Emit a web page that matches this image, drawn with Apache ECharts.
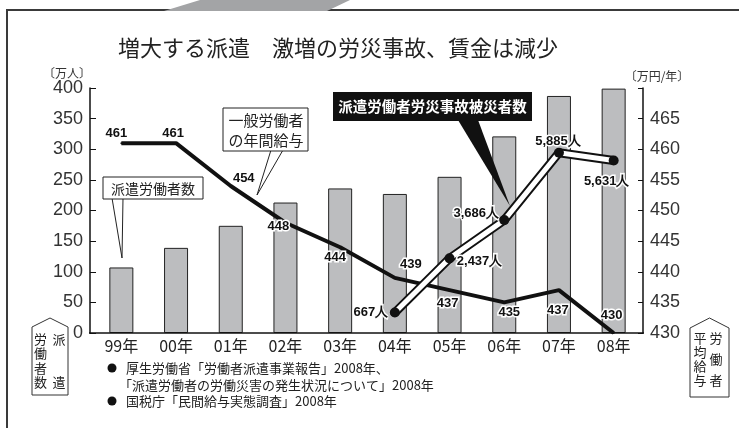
<!DOCTYPE html>
<html><head><meta charset="utf-8">
<script src="https://cdn.jsdelivr.net/npm/echarts@6/dist/echarts.min.js"></script>
<style>html,body{margin:0;padding:0;background:#fff}#c{width:739px;height:428px}</style>
</head><body><div id="c"></div>
<script>
const categories = ['99年','00年','01年','02年','03年','04年','05年','06年','07年','08年'];
const dispatchWorkers = [107, 139, 175, 213, 236, 227, 255, 321, 387, 399];
const wages = [461, 461, 454, 448, 444, 439, 437, 435, 437, 430];
const accidents = [null, null, null, null, null, 667, 2437, 3686, 5885, 5631];
const leftTicks = {min: 0, max: 400, interval: 50};
const rightTicks = {min: 430, max: 470, interval: 5};

// label placement (annotation layout only)
const wageLabelOffsets = [[-5,-10],[-3,-10],[13,-8],[-7,4],[-5,10],[16,-13],[-2,13],[5,10],[-1,20],[-2,-18]];
const accLabelOffsets = [null,null,null,null,null,[-24,0],[30,3],[-28,-7],[-1,-11],[-7,21]];

const FONT = '"Noto Sans CJK JP","Noto Sans",sans-serif';
const NUMFONT = '"Liberation Sans","Arial",sans-serif';

const labelBase = {show:true, position:'inside', color:'#111', fontFamily:NUMFONT, fontWeight:'bold', fontSize:13, textBorderColor:'#fff', textBorderWidth:3};

const wageData = wages.map((v,i)=>({value:v, label:Object.assign({}, labelBase, {offset: wageLabelOffsets[i]})}));
const accData = accidents.map((v,i)=> v==null ? null : ({value:v, label:Object.assign({}, labelBase, {offset: accLabelOffsets[i], formatter: p => p.value.toLocaleString('en-US') + '人'})}));

const chart = echarts.init(document.getElementById('c'), null, {renderer:'canvas'});
const axisTxt = {color:'#333', fontFamily:NUMFONT, fontSize:18};

function ch(x, y, t) {
  return {type:'text', z:11, style:{x:x, y:y, text:t, font:'13px '+FONT, fill:'#222', textAlign:'center', textVerticalAlign:'middle'}};
}
const badgeText = [
  ch(40.5,339,'労'), ch(40.5,353.3,'働'), ch(40.5,367.6,'者'), ch(40.5,382,'数'),
  ch(59,339,'派'), ch(59,382,'遣'),
  ch(700,338,'平'), ch(700,352,'均'), ch(700,366,'給'), ch(700,380,'与'),
  ch(716,338,'労'), ch(716,359,'働'), ch(716,380,'者')
];

chart.setOption({
  animation:false,
  backgroundColor:'#fff',
  grid:{left:94, right:98, top:88, bottom:95},
  xAxis:{type:'category', data:categories, boundaryGap:true,
    axisLine:{show:false}, axisTick:{show:false},
    axisLabel:{color:'#222', fontFamily:FONT, fontSize:16, margin:5}},
  yAxis:[
    {type:'value', min:leftTicks.min, max:leftTicks.max, interval:leftTicks.interval, position:'left', offset:4,
     axisLine:{show:true, lineStyle:{color:'#111', width:1.5}},
     axisTick:{show:true, inside:true, length:6, lineStyle:{color:'#111'}},
     axisLabel:Object.assign({margin:7}, axisTxt), splitLine:{show:false}},
    {type:'value', min:rightTicks.min, max:rightTicks.max, interval:rightTicks.interval, position:'right', offset:2,
     axisLine:{show:true, lineStyle:{color:'#111', width:1.5}},
     axisTick:{show:true, inside:true, length:5, lineStyle:{color:'#111'}},
     axisLabel:Object.assign({margin:7, formatter: v => v >= 470 ? '' : String(v)}, axisTxt), splitLine:{show:false}},
    {type:'value', min:0, max:8000, show:false}
  ],
  series:[
    {type:'bar', data:dispatchWorkers, yAxisIndex:0, barWidth:24, z:1,
     itemStyle:{color:'#bcbdbf', borderColor:'#222', borderWidth:1}},
    {type:'line', data:wageData, yAxisIndex:1, z:3, symbol:'circle', symbolSize:2, showSymbol:true,
     itemStyle:{color:'#111'}, lineStyle:{color:'#111', width:4}},
    {type:'line', data:accidents, yAxisIndex:2, z:4, symbol:'none', connectNulls:false,
     lineStyle:{color:'#111', width:9, cap:'round'}},
    {type:'line', data:accData, yAxisIndex:2, z:5, symbol:'circle', symbolSize:10, showSymbol:true,
     itemStyle:{color:'#111'}, lineStyle:{color:'#fff', width:5}}
  ],
  graphic:[
    {type:'rect', z:0, shape:{x:7, y:10, width:800, height:500}, style:{fill:'none', stroke:'#3a3a3a', lineWidth:2}},
    {type:'polygon', z:0, shape:{points:[[164,11],[200,0],[350,0],[327,11]]}, style:{fill:'#a3a4a6'}},
    {type:'text', z:10, style:{x:118, y:48, text:'増大する派遣　激増の労災事故、賃金は減少', font:'22px '+FONT, fill:'#222', textVerticalAlign:'middle'}},
    {type:'text', z:10, style:{x:67, y:73, text:'〔万人〕', font:'12px '+FONT, fill:'#333', textAlign:'center', textVerticalAlign:'middle'}},
    {type:'text', z:10, style:{x:657, y:76, text:'〔万円/年〕', font:'12px '+FONT, fill:'#333', textAlign:'center', textVerticalAlign:'middle'}},
    {type:'line', z:2, shape:{x1:89, y1:333, x2:644, y2:333}, style:{stroke:'#111', lineWidth:1.5}},
    // callout 1
    {type:'polygon', z:20, shape:{points:[[112,198],[123,198],[122,258]]}, style:{fill:'#fff', stroke:'#222', lineWidth:1}},
    {type:'rect', z:21, shape:{x:103, y:177, width:100, height:22}, style:{fill:'#fff', stroke:'#222', lineWidth:1}},
    {type:'text', z:22, style:{x:153, y:188.5, text:'派遣労働者数', font:'14px '+FONT, fill:'#222', textAlign:'center', textVerticalAlign:'middle'}},
    // callout 2
    {type:'polygon', z:20, shape:{points:[[271,150],[283,150],[257,195]]}, style:{fill:'#fff', stroke:'#222', lineWidth:1}},
    {type:'rect', z:21, shape:{x:223, y:108, width:85, height:43}, style:{fill:'#fff', stroke:'#222', lineWidth:1}},
    {type:'text', z:22, style:{x:266, y:120, text:'一般労働者', font:'15px '+FONT, fill:'#222', textAlign:'center', textVerticalAlign:'middle'}},
    {type:'text', z:22, style:{x:266, y:140, text:'の年間給与', font:'15px '+FONT, fill:'#222', textAlign:'center', textVerticalAlign:'middle'}},
    // callout 3
    {type:'polygon', z:20, shape:{points:[[458,120],[478,120],[510,206]]}, style:{fill:'#111'}},
    {type:'rect', z:21, shape:{x:333, y:92, width:199, height:29}, style:{fill:'#111'}},
    {type:'text', z:22, style:{x:432.5, y:106.5, text:'派遣労働者労災事故被災者数', font:'bold 14.5px '+FONT, fill:'#fff', textAlign:'center', textVerticalAlign:'middle'}},
    // axis name badges
    {type:'polygon', z:10, shape:{points:[[32,327],[50,318],[68,327],[68,395],[32,395]]}, style:{fill:'#fff', stroke:'#333', lineWidth:1}},
    {type:'polygon', z:10, shape:{points:[[690,328],[709.5,318],[729,328],[729,397],[690,397]]}, style:{fill:'#fff', stroke:'#333', lineWidth:1}}
  ].concat(badgeText).concat([
    // footer
    {type:'circle', z:10, shape:{cx:112, cy:368, r:4.5}, style:{fill:'#111'}},
    {type:'text', z:10, style:{x:126, y:368, text:'厚生労働省「労働者派遣事業報告」2008年、', font:'13px '+FONT, fill:'#222', textVerticalAlign:'middle'}},
    {type:'text', z:10, style:{x:119, y:385, text:'「派遣労働者の労働災害の発生状況について」2008年', font:'13px '+FONT, fill:'#222', textVerticalAlign:'middle'}},
    {type:'circle', z:10, shape:{cx:112, cy:401, r:4.5}, style:{fill:'#111'}},
    {type:'text', z:10, style:{x:126, y:401, text:'国税庁「民間給与実態調査」2008年', font:'13px '+FONT, fill:'#222', textVerticalAlign:'middle'}}
  ])
});
</script></body></html>
